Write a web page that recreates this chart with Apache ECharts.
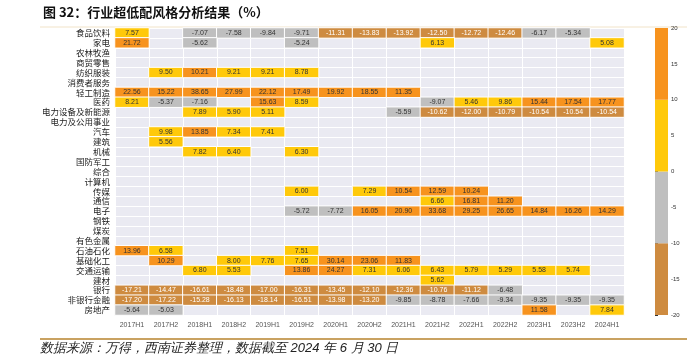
<!DOCTYPE html>
<html><head><meta charset="utf-8">
<script src="https://cdn.jsdelivr.net/npm/echarts@6/dist/echarts.min.js"></script>
<style>html,body{margin:0;padding:0;background:#fff;}#c{width:687px;height:358px;}</style>
</head><body><div id="c"></div>
<script>
const periods = ['2017H1','2017H2','2018H1','2018H2','2019H1','2019H2','2020H1','2020H2','2021H1','2021H2','2022H1','2022H2','2023H1','2023H2','2024H1'];
const industries = ['食品饮料','家电','农林牧渔','商贸零售','纺织服装','消费者服务','轻工制造','医药','电力设备及新能源','电力及公用事业','汽车','建筑','机械','国防军工','综合','计算机','传媒','通信','电子','钢铁','煤炭','有色金属','石油石化','基础化工','交通运输','建材','银行','非银行金融','房地产'];
const E = null;
const foodBev      = [7.57, E, -7.07, -7.58, -9.84, -9.71, -11.31, -13.83, -13.92, -12.50, -12.72, -12.46, -6.17, -5.34, E];
const homeAppl     = [21.72, E, -5.62, E, E, -5.24, E, E, E, 6.13, E, E, E, E, 5.08];
const agri         = [E, E, E, E, E, E, E, E, E, E, E, E, E, E, E];
const retail       = [E, E, E, E, E, E, E, E, E, E, E, E, E, E, E];
const textile      = [E, 9.50, 10.21, 9.21, 9.21, 8.78, E, E, E, E, E, E, E, E, E];
const consumerSvc  = [E, E, E, E, E, E, E, E, E, E, E, E, E, E, E];
const lightMfg     = [22.56, 15.22, 38.65, 27.99, 22.12, 17.49, 19.92, 18.55, 11.35, E, E, E, E, E, E];
const pharma       = [8.21, -5.37, -7.16, E, 15.63, 8.59, E, E, E, -9.07, 5.46, 9.86, 15.44, 17.54, 17.77];
const powerEquip   = [E, E, 7.89, 5.90, 5.11, E, E, E, -5.59, -10.62, -12.00, -10.79, -10.54, -10.54, -10.54];
const utilities    = [E, E, E, E, E, E, E, E, E, E, E, E, E, E, E];
const autos        = [E, 9.98, 13.85, 7.34, 7.41, E, E, E, E, E, E, E, E, E, E];
const construction = [E, 5.56, E, E, E, E, E, E, E, E, E, E, E, E, E];
const machinery    = [E, E, 7.82, 6.40, E, 6.30, E, E, E, E, E, E, E, E, E];
const defense      = [E, E, E, E, E, E, E, E, E, E, E, E, E, E, E];
const conglomerate = [E, E, E, E, E, E, E, E, E, E, E, E, E, E, E];
const computer     = [E, E, E, E, E, E, E, E, E, E, E, E, E, E, E];
const media        = [E, E, E, E, E, 6.00, E, 7.29, 10.54, 12.59, 10.24, E, E, E, E];
const telecom      = [E, E, E, E, E, E, E, E, E, 6.66, 16.81, 11.20, E, E, E];
const electronics  = [E, E, E, E, E, -5.72, -7.72, 16.05, 20.90, 33.68, 29.25, 26.65, 14.84, 16.26, 14.29];
const steel        = [E, E, E, E, E, E, E, E, E, E, E, E, E, E, E];
const coal         = [E, E, E, E, E, E, E, E, E, E, E, E, E, E, E];
const nonferrous   = [E, E, E, E, E, E, E, E, E, E, E, E, E, E, E];
const petro        = [13.96, 6.58, E, E, E, 7.51, E, E, E, E, E, E, E, E, E];
const chemicals    = [E, 10.29, E, 8.00, 7.76, 7.65, 30.14, 23.06, 11.83, E, E, E, E, E, E];
const transport    = [E, E, 6.80, 5.53, E, 13.86, 24.27, 7.31, 6.06, 6.43, 5.79, 5.29, 5.58, 5.74, E];
const buildMat     = [E, E, E, E, E, E, E, E, E, 5.62, E, E, E, E, E];
const banks        = [-17.21, -14.47, -16.61, -18.48, -17.00, -16.31, -13.45, -12.10, -12.36, -10.76, -11.12, -6.48, E, E, E];
const nonBank      = [-17.20, -17.22, -15.28, -16.13, -18.14, -16.51, -13.98, -13.20, -9.85, -8.78, -7.66, -9.34, -9.35, -9.35, -9.35];
const realEstate   = [-5.64, -5.03, E, E, E, E, E, E, E, E, E, E, 11.58, E, 7.84];
const colorbarBreaks = [-20, -10, 0, 10, 20];

const rows = [foodBev, homeAppl, agri, retail, textile, consumerSvc, lightMfg, pharma, powerEquip, utilities,
  autos, construction, machinery, defense, conglomerate, computer, media, telecom, electronics, steel, coal,
  nonferrous, petro, chemicals, transport, buildMat, banks, nonBank, realEstate];

const COL = {brown:'#CE8B40', gray:'#BFBFBF', yellow:'#FFC90A', orange:'#F7931E'};
const bandColors = [COL.brown, COL.gray, COL.yellow, COL.orange];

const data = [];
rows.forEach((r, yi) => r.forEach((v, xi) => {
  if (v !== null) data.push({value:[xi, yi, v], label:{color: v < -10 ? '#ffffff' : '#333333'}});
}));

const markData = [];
for (let i = 0; i < colorbarBreaks.length - 1; i++) {
  markData.push([{xAxis:0, yAxis:colorbarBreaks[i], itemStyle:{color:bandColors[i], opacity:1}}, {xAxis:1, yAxis:colorbarBreaks[i+1]}]);
}

const chart = echarts.init(document.getElementById('c'), null, {renderer:'canvas'});
chart.setOption({
  animation:false,
  backgroundColor:'#ffffff',
  textStyle:{fontFamily:'"Noto Sans CJK SC", "Liberation Sans", sans-serif'},
  title:{text:'图 32：行业超低配风格分析结果（%）', left:38, top:1,
    textStyle:{fontSize:13, fontWeight:'bold', color:'#111', fontFamily:'"Noto Sans CJK SC", sans-serif'}},
  graphic:[
    {type:'line', shape:{x1:40, y1:27, x2:687, y2:27}, style:{stroke:'#F1E3C8', lineWidth:1}},
    {type:'line', shape:{x1:40, y1:339, x2:687, y2:339}, style:{stroke:'#C9A261', lineWidth:2}},
    {type:'text', left:40, top:342, style:{text:'数据来源：万得，西南证券整理，数据截至 2024 年 6 月 30 日', fontSize:13, fontStyle:'italic', fill:'#222', font:'italic 13px "Noto Sans CJK SC", sans-serif'}}
  ],
  grid:[
    {left:115, right:63, top:28, bottom:43, show:true, backgroundColor:'#EAEAF2', borderWidth:0},
    {left:655, width:13, top:28, bottom:43, show:false}
  ],
  xAxis:[
    {type:'category', data:periods, gridIndex:0, axisLine:{show:false}, axisTick:{show:false},
     axisLabel:{fontSize:7, color:'#555', margin:7, interval:0, fontFamily:'"Liberation Sans", sans-serif'},
     splitLine:{show:true, interval:0, lineStyle:{color:'#ffffff', width:1}}},
    {type:'value', gridIndex:1, min:0, max:1, show:false}
  ],
  yAxis:[
    {type:'category', data:industries, inverse:true, gridIndex:0, axisLine:{show:false}, axisTick:{show:false},
     axisLabel:{fontSize:8.5, color:'#222', margin:5, interval:0},
     splitLine:{show:true, interval:0, lineStyle:{color:'#ffffff', width:1}}},
    {type:'value', gridIndex:1, min:-20, max:20, interval:5, position:'right',
     axisLine:{show:false}, axisTick:{show:true, length:3, lineStyle:{color:'#333', width:1}},
     axisLabel:{fontSize:6, color:'#333', margin:3, fontFamily:'"Liberation Sans", sans-serif'},
     splitLine:{show:false}}
  ],
  visualMap:{type:'piecewise', show:false, seriesIndex:0, dimension:2,
    pieces:[{gte:10, color:COL.orange},{gte:0, lt:10, color:COL.yellow},{gte:-10, lt:0, color:COL.gray},{lt:-10, color:COL.brown}]},
  series:[
    {type:'heatmap', xAxisIndex:0, yAxisIndex:0, data:data,
     itemStyle:{borderColor:'#ffffff', borderWidth:1},
     label:{show:true, fontSize:7, fontFamily:'"Liberation Sans", sans-serif', formatter:p => p.value[2].toFixed(2)}},
    {type:'line', xAxisIndex:1, yAxisIndex:1, data:[[0, 0]], showSymbol:false, symbolSize:0, lineStyle:{opacity:0},
     markArea:{silent:true, data:markData}}
  ]
});
</script></body></html>
